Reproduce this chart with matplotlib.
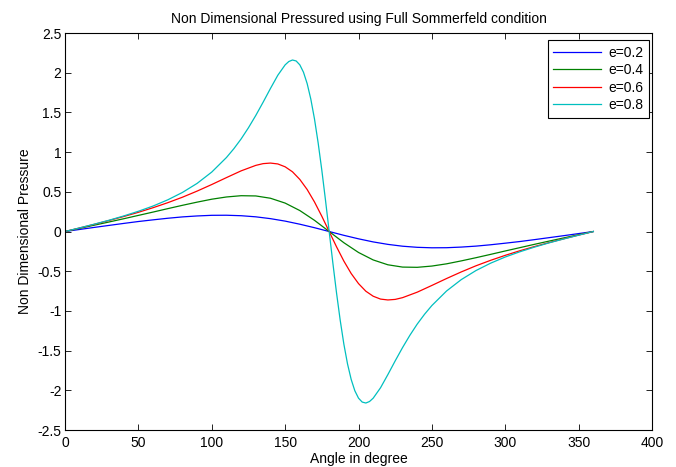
import matplotlib
matplotlib.use('Agg')
import matplotlib.pyplot as plt
from matplotlib import rcParams

rcParams['font.family'] = ['Liberation Sans', 'DejaVu Sans']
rcParams['font.size'] = 10
rcParams['xtick.direction'] = 'in'
rcParams['ytick.direction'] = 'in'

# values
ang_a = [0, 10, 20, 30, 40, 50, 60, 70, 80, 90, 100, 110, 120, 130, 140, 150, 160, 170, 180,
         190, 200, 210, 220, 230, 240, 250, 260, 270, 280, 290, 300, 310, 320, 330, 340, 350, 360]
p_e02 = [0, .026, .052, .077, .102, .126, .147, .167, .184, .196, .204, .205, .199, .185, .162, .131, .092, .048, 0,
         -.048, -.092, -.131, -.162, -.185, -.199, -.205, -.204, -.196, -.184, -.167, -.147, -.126, -.102, -.077, -.052, -.026, 0]
p_e04 = [0, .040, .080, .120, .161, .203, .245, .288, .330, .370, .407, .435, .451, .448, .419, .358, .264, .141, 0,
         -.141, -.264, -.358, -.419, -.448, -.451, -.435, -.407, -.370, -.330, -.288, -.245, -.203, -.161, -.120, -.080, -.040, 0]

ang_b = [0, 10, 20, 30, 40, 50, 60, 70, 80, 90, 100, 110, 120, 130, 135, 140, 145, 150, 155, 160, 165, 170, 175, 180,
         185, 190, 195, 200, 205, 210, 215, 220, 225, 230, 240, 250, 260, 270, 280, 290, 300, 310, 320, 330, 340, 350, 360]
p_e06 = [0, .045, .091, .139, .189, .242, .300, .363, .432, .509, .592, .679, .764, .833, .855, .862, .851, .815, .752, .656, .529, .372, .192, 0,
         -.192, -.372, -.529, -.656, -.752, -.815, -.851, -.862, -.855, -.833, -.764, -.679, -.592, -.509, -.432, -.363, -.300, -.242, -.189, -.139, -.091, -.045, 0]

ang_c = [0, 10, 20, 30, 40, 50, 60, 70, 80, 90, 100, 110, 115, 120, 125, 130, 135, 140, 145, 150,
         152.5, 155, 157.5, 160, 162.5, 165, 167.5, 170, 172.5, 175, 177.5, 180,
         182.5, 185, 187.5, 190, 192.5, 195, 197.5, 200, 202.5, 205, 207.5, 210,
         215, 220, 225, 230, 235, 240, 245, 250, 260, 270, 280, 290, 300, 310, 320, 330, 340, 350, 360]
p_e08 = [0, .046, .093, .142, .196, .255, .321, .399, .492, .606, .749, .932, 1.042, 1.166, 1.307, 1.462, 1.629, 1.802, 1.968, 2.099,
         2.141, 2.160, 2.148, 2.099, 2.006, 1.863, 1.667, 1.417, 1.115, .771, .394, 0,
         -.394, -.771, -1.115, -1.417, -1.667, -1.863, -2.006, -2.099, -2.148, -2.160, -2.141, -2.099,
         -1.968, -1.802, -1.629, -1.462, -1.307, -1.166, -1.042, -.932, -.749, -.606, -.492, -.399, -.321, -.255, -.196, -.142, -.093, -.046, 0]

fig = plt.figure(figsize=(6.76, 4.67), dpi=100)
ax = fig.add_axes([0.0962, 0.0792, 0.8683, 0.8501])

ax.plot(ang_a, p_e02, color=(0, 0, 1), lw=0.9, label='e=0.2')
ax.plot(ang_a, p_e04, color=(0, 0.5, 0), lw=0.9, label='e=0.4')
ax.plot(ang_b, p_e06, color=(1, 0, 0), lw=0.9, label='e=0.6')
ax.plot(ang_c, p_e08, color=(0, 0.75, 0.75), lw=0.9, label='e=0.8')

ax.set_xlim(0, 400)
ax.set_ylim(-2.5, 2.5)
ax.set_xticks(range(0, 401, 50))
ax.set_yticks([-2.5, -2, -1.5, -1, -0.5, 0, 0.5, 1, 1.5, 2, 2.5])
ax.set_yticklabels(['-2.5', '-2', '-1.5', '-1', '-0.5', '0', '0.5', '1', '1.5', '2', '2.5'])
ax.tick_params(top=True, right=True, length=4, width=0.6, labelsize=10)
ax.tick_params(axis='y', pad=2.5)
ax.tick_params(axis='x', pad=4)
for s in ax.spines.values():
    s.set_linewidth(0.8)

ax.set_title('Non Dimensional Pressured using Full Sommerfeld condition', fontsize=10, pad=7)
ax.set_xlabel('Angle in degree', fontsize=10, labelpad=2)
ax.set_ylabel('Non Dimensional Pressure', fontsize=10, labelpad=4)

leg = ax.legend(loc='upper right', bbox_to_anchor=(0.9949, 0.9824), borderaxespad=0,
                fancybox=False, framealpha=1, edgecolor='black', fontsize=10,
                handlelength=3.45, handletextpad=0.5, labelspacing=0.25, borderpad=0.4)
leg.get_frame().set_linewidth(0.8)

fig.savefig('out.png', dpi=100)
